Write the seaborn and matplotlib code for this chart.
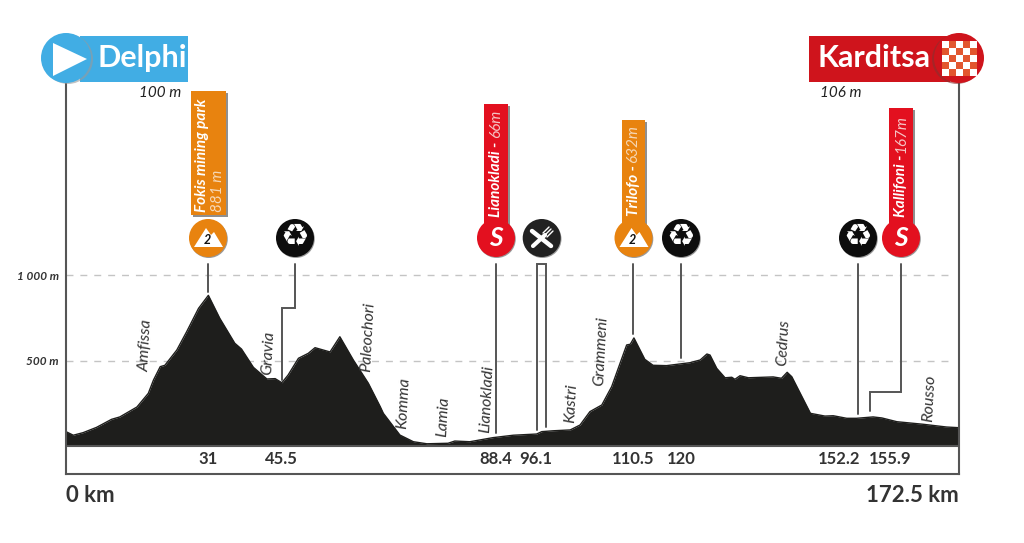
import matplotlib
matplotlib.use("Agg")
import matplotlib.pyplot as plt
from matplotlib.patches import Circle, Rectangle, Polygon
import pandas as pd
import seaborn as sns

# ---- data (km position along the drawn axis, metres) ----
km = [0, 1.4, 3.3, 5.9, 8.8, 10.4, 13.7, 15.9, 16.9, 18.2, 19.1, 21.4, 23.3, 25.6, 27.5, 29.7,
      32.6, 33.9, 36.2, 38.8, 40.4, 41.7, 42.9, 44.9, 46.8, 48.1, 51.0, 52.9, 55.5, 58.4, 60.7,
      61.3, 64.5, 67.1, 69.7, 73.8, 75.1, 78.0, 82.5, 86.4, 90.9, 91.9, 94.1, 97.4, 99.3, 101.2,
      103.5, 105.4, 108.3, 109.0, 109.7, 111.8, 113.4, 116.0, 120.5, 122.5, 123.8, 124.4, 125.7,
      127.3, 128.6, 129.2, 130.2, 131.8, 136.6, 138.2, 139.3, 140.2, 143.8, 146.6, 148.2, 150.8,
      152.7, 155.9, 157.6, 160.5, 165.6, 170.1, 172.5]
elevation = [84, 63, 78, 109, 156, 170, 228, 308, 386, 464, 472, 561, 668, 805, 881, 747,
             601, 567, 460, 392, 394, 370, 415, 513, 542, 575, 550, 639, 503, 367, 230,
             191, 64, 25, 13, 16, 29, 25, 49, 63, 70, 84, 89, 94, 123, 201,
             240, 347, 591, 595, 632, 507, 472, 470, 487, 503, 538, 532, 454,
             399, 402, 390, 411, 399, 404, 396, 431, 405, 191, 175, 177, 162,
             162, 170, 164, 142, 127, 111, 107]
km_tick_pos = [27.4, 41.7, 83.0, 90.8, 109.5, 118.8, 149.3, 159.2]
km_tick_lab = ["31", "45.5", "88.4", "96.1", "110.5", "120", "152.2", "155.9"]
y_ticks = [500, 1000]
y_tick_lab = ["500 m", "1 000 m"]
places = ["Amfissa", "Gravia", "Paleochori", "Komma", "Lamia", "Lianokladi", "Kastri", "Grammeni", "Cedrus", "Rousso"]
place_x = [146, 268, 368, 404, 443, 487, 571, 601, 783, 929]
place_y = [346, 353, 337, 403, 417, 399, 403, 351, 343, 398]

FONT = ["Lato", "DejaVu Sans"]
BLUE, RED, RED2, ORANGE = "#41ade4", "#cf141c", "#e3101f", "#e8830f"
INK, LINE = "#1e1e1c", "#555555"

sns.set_theme(style="white")
plt.rcParams["font.family"] = FONT

fig = plt.figure(figsize=(10.24, 5.43), dpi=100, facecolor="white")
W, H = 1024, 543
L, R, T, B = 66, 959, 83, 474
ax = fig.add_axes([L / W, 1 - B / H, (R - L) / W, (B - T) / H])
scale_x, scale_y = 5.177, 0.171
ax.set_xlim(0, (R - L) / scale_x)
ax.set_ylim(-(B - 446) / scale_y, (446 - T) / scale_y)

# ---- profile ----
df = pd.DataFrame({"km": km, "m": elevation})
ax.hlines(y_ticks, 0, 171, colors="#c4c4c4", linestyles=(0, (5, 5)), linewidth=1, zorder=1)
ax.fill_between(df["km"], 0, df["m"], color=INK, lw=0, zorder=2)
sns.lineplot(data=df, x="km", y="m", color=INK, lw=1.0, ax=ax, zorder=2)
ax.axhline(0, color=LINE, lw=1.5, zorder=3)

ax.spines["top"].set_visible(False)
for s in ("left", "right", "bottom"):
    ax.spines[s].set_visible(True)
    ax.spines[s].set_color(LINE)
    ax.spines[s].set_linewidth(1.5)
ax.set_xlabel("")
ax.set_ylabel("")
ax.set_xticks(km_tick_pos, km_tick_lab, fontsize=12, fontweight="bold", color="#333333")
ax.set_yticks(y_ticks, y_tick_lab, fontsize=8.5, style="italic", fontweight="bold", color="#333333")
ax.tick_params(axis="x", length=0, pad=-16.5)
ax.tick_params(axis="y", length=0, pad=5)

# ---- overlay in pixel coordinates ----
ov = fig.add_axes([0, 0, 1, 1], zorder=5)
ov.set_xlim(0, W)
ov.set_ylim(H, 0)
ov.axis("off")
ov.patch.set_alpha(0)


def path(xs, ys):
    ov.plot(xs, ys, color=LINE, lw=1.4, solid_joinstyle="miter", zorder=4)


path([208, 208], [264, 292])
path([295, 295, 282, 282], [264, 308, 308, 380])
path([496, 496], [264, 433])
path([537, 537, 546, 546], [430, 264, 264, 427])
path([633, 633], [264, 334])
path([681, 681], [264, 358])
path([858, 858], [264, 414])
path([901, 901, 870, 870], [264, 392, 392, 411])

for name, x, y in zip(places, place_x, place_y):
    ov.text(x, y, name, rotation=87, ha="center", va="center", style="italic", fontsize=11.5, color="#333333")

ov.text(66, 495, "0 km", ha="left", va="center", fontsize=16, fontweight="bold", color="#333333")
ov.text(959, 495, "172.5 km", ha="right", va="center", fontsize=16, fontweight="bold", color="#333333")


def banner(x0, x1, color):
    ov.add_patch(Rectangle((x0, 36), x1 - x0, 46, color=color, lw=0, zorder=5))


# start
banner(80, 188, BLUE)
ov.add_patch(Circle((68, 59), 25, color="#9a9a9a", lw=0, alpha=0.6, zorder=5))
ov.add_patch(Circle((66, 58), 25, color=BLUE, lw=0, zorder=6))
ov.add_patch(Polygon([(53, 43), (53, 76), (87, 59)], color="white", lw=0, zorder=7))
ov.text(98, 58, "Delphi", ha="left", va="center", color="white", fontsize=22, fontweight="bold", zorder=7)
ov.text(181, 93, "100 m", ha="right", va="center", style="italic", fontsize=11, color="#222222")

# finish
banner(809, 950, RED)
ov.add_patch(Circle((957, 59), 25, color="#8a3030", lw=0, alpha=0.6, zorder=5))
ov.add_patch(Circle((959, 58), 25, color=RED, lw=0, zorder=6))
cell = 7
for row in range(-2, 3):
    for col in range(-2, 3):
        color = "white" if (row + col) % 2 == 0 else "#e2562f"
        ov.add_patch(Rectangle((959 + (col - 0.5) * cell, 58 + (row - 0.5) * cell), cell, cell,
                               color=color, lw=0, zorder=7))
ov.text(818, 58, "Karditsa", ha="left", va="center", color="white", fontsize=22, fontweight="bold", zorder=7)
ov.text(820, 93, "106 m", ha="left", va="center", style="italic", fontsize=11, color="#222222")


def flag(x0, x1, top, color, bottom):
    ov.add_patch(Rectangle((x0 + 2, top + 2), x1 - x0, bottom - top, color="#8f8f8f", lw=0, zorder=5))
    ov.add_patch(Rectangle((x0, top), x1 - x0, bottom - top, color=color, lw=0, zorder=6))


def disc(x, color, y=238, r=19):
    ov.add_patch(Circle((x + 0.8, y + 1), r, color="#9a9a9a", lw=0, zorder=6))
    ov.add_patch(Circle((x, y), r, color=color, lw=0, zorder=7))


def mountain(x, y=238):
    ov.add_patch(Polygon([(x - 14, y + 9), (x - 2, y - 10), (x + 3, y - 3), (x + 6, y - 6), (x + 15, y + 9)],
                         color="white", lw=0, zorder=8))
    ov.text(x - 1, y + 2, "2", ha="center", va="center", style="italic", fontweight="bold",
            fontsize=9, color="#111111", zorder=9)


def letter_s(x, y=238):
    ov.text(x, y, "S", ha="center", va="center", style="italic", fontweight="bold", fontsize=19,
            color="white", zorder=8)


def recycle(x, y=238):
    disc(x, "#0d0d0d")
    ov.text(x, y - 1, "\u267b", family="DejaVu Sans", ha="center", va="center", fontsize=23, color="white", zorder=8)


def bold(x, y, s):
    ov.text(x, y, s, rotation=90, ha="center", va="bottom", style="italic", fontweight="bold",
            fontsize=11, color="white", zorder=8)


def light_top(x, y, s, color):
    ov.text(x, y, s, rotation=90, ha="center", va="top", style="italic", fontsize=11, color=color, zorder=8)


# Fokis
flag(191, 226, 91, ORANGE, 215)
disc(208, ORANGE)
mountain(208)
bold(202, 212, "Fokis mining park")
ov.text(218, 212, "881 m", rotation=90, ha="center", va="bottom", style="italic", fontsize=11, color="#f6d7b5", zorder=8)
recycle(295)

# Lianokladi
flag(484, 508, 104, RED2, 232)
disc(496, RED2)
letter_s(496)
bold(496, 217, "Lianokladi -")
light_top(496, 110, "66m", "#f5c4c4")

# Feed zone
disc(541.7, "#222222")
ov.plot([533, 545], [246, 235], color="white", lw=3, solid_capstyle="round", zorder=8)
for dx, dy in ((-2, -2), (0, 0), (2, 2)):
    ov.plot([545 + dx, 551 + dx], [235 + dy, 229 + dy], color="white", lw=1, zorder=8)
ov.plot([532, 551], [231, 246], color="white", lw=3.2, solid_capstyle="round", zorder=8)

# Trilofo
flag(622, 645, 120, ORANGE, 232)
disc(633.5, ORANGE)
mountain(633.5)
bold(633.5, 216, "Trilofo -")
light_top(633.5, 125, "632m", "#f6d7b5")
recycle(681)

# Kallifoni
recycle(858)
flag(889, 913, 108, RED2, 232)
disc(901, RED2)
letter_s(901)
bold(901, 217, "Kallifoni -")
light_top(901, 115, "167m", "#f5c4c4")

fig.savefig("out.png", dpi=100)
